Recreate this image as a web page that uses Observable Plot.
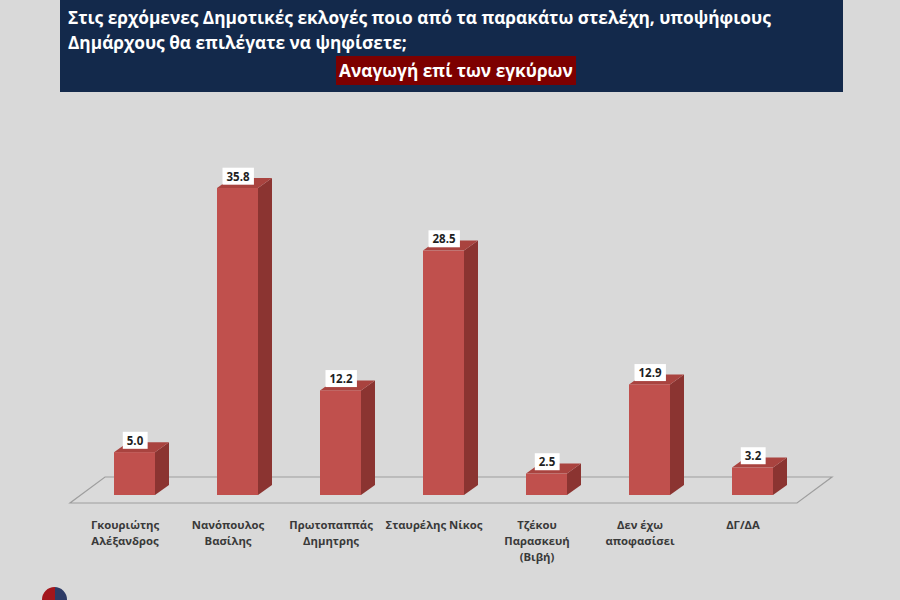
<!DOCTYPE html>
<html><head><meta charset="utf-8">
<script src="https://cdn.jsdelivr.net/npm/d3@7"></script>
<script src="https://cdn.jsdelivr.net/npm/@observablehq/plot@0.6"></script>
<style>
html,body{margin:0;padding:0;}
body{width:900px;height:600px;background:#d9d9d9;position:relative;overflow:hidden;font-family:"Open Sans",sans-serif;}
#header{position:absolute;left:60px;top:0;width:783px;height:92px;background:#13294b;color:#fff;font-weight:700;}
#header .t{position:absolute;left:8px;top:5px;font-size:17.3px;line-height:25px;white-space:nowrap;}
#header .s{position:absolute;left:276px;top:56px;font-size:17.3px;line-height:29px;background:#7d0000;padding:0 3px;white-space:nowrap;}
#chart{position:absolute;left:0;top:92px;}
#logo{position:absolute;left:42px;top:587px;width:25px;height:25px;border-radius:50%;background:linear-gradient(to right,#a3161c 52%,#2d3b66 52%);}
</style></head>
<body>
<div id="header">
  <div class="t">Στις ερχόμενες Δημοτικές εκλογές ποιο από τα παρακάτω στελέχη, υποψήφιους<br>Δημάρχους θα επιλέγατε να ψηφίσετε;</div>
  <div class="s">Αναγωγή επί των εγκύρων</div>
</div>
<div id="chart"></div>
<div id="logo"></div>
<script>
const categories = ["Γκουριώτης\nΑλέξανδρος", "Νανόπουλος\nΒασίλης", "Πρωτοπαππάς\nΔημητρης", "Σταυρέλης Νίκος", "Τζέκου\nΠαρασκευή\n(Βιβή)", "Δεν έχω\nαποφασίσει", "ΔΓ/ΔΑ"];
const values = [5.0, 35.8, 12.2, 28.5, 2.5, 12.9, 3.2];
const data = categories.map((c, i) => ({name: c, value: values[i]}));

const FRONT = "#c0504d", SIDE = "#8b3431", TOP = "#a9433f";
const DX = 14, DY = -10;
const pts = a => a.map(p => p.join(",")).join(" ");

function floorMark(index, scales, vals, dims) {
  const y0 = scales.y(0);
  const L = dims.marginLeft, R = dims.width - dims.marginRight;
  const g = d3.create("svg:g");
  g.append("polygon")
    .attr("points", pts([[L + 21, y0 + 8], [R - 42, y0 + 8], [R - 7, y0 - 18], [L + 56, y0 - 18]]))
    .attr("fill", "#dadada").attr("stroke", "#9e9e9e").attr("stroke-width", 1.2);
  return g.node();
}

function depthMark(index, scales) {
  const g = d3.create("svg:g");
  const bw = scales.x.bandwidth();
  for (const d of data) {
    const x0 = scales.x(d.name), x1 = x0 + bw, yt = scales.y(d.value), yb = scales.y(0);
    g.append("polygon").attr("points", pts([[x1, yb], [x1, yt], [x1 + DX, yt + DY], [x1 + DX, yb + DY]])).attr("fill", SIDE);
    g.append("polygon").attr("points", pts([[x0, yt], [x1, yt], [x1 + DX, yt + DY], [x0 + DX, yt + DY]])).attr("fill", TOP);
  }
  return g.node();
}

const chart = Plot.plot({
  width: 900,
  height: 508,
  marginLeft: 49,
  marginRight: 61,
  marginTop: 60,
  marginBottom: 105,
  x: {domain: categories, padding: 0.6, axis: null},
  y: {domain: [0, 40], axis: null},
  style: {background: "transparent", fontFamily: "'Open Sans', sans-serif", overflow: "visible"},
  marks: [
    floorMark,
    depthMark,
    Plot.barY(data, {x: "name", y: "value", fill: FRONT}),
    Plot.text(data, {x: "name", y: "value", text: d => d.value.toFixed(1), dy: -11.5, fontSize: 11.5, fontWeight: "bold", fill: "#1f1f1f"}),
    Plot.text(data, {x: "name", y: 0, text: "name", dx: -10, dy: 22, lineAnchor: "top", lineHeight: 1.41, fontSize: 11.3, fontWeight: "bold", fill: "#3a3a3a"})
  ]
});
document.getElementById("chart").appendChild(chart);

// white boxes behind the value labels (first text mark group)
const valueGroup = chart.querySelectorAll('g[aria-label="text"]')[0];
if (valueGroup) {
  valueGroup.querySelectorAll("text").forEach(t => {
    const b = t.getBBox();
    const r = document.createElementNS("http://www.w3.org/2000/svg", "rect");
    r.setAttribute("x", b.x - 4);
    r.setAttribute("y", b.y - 1);
    r.setAttribute("width", b.width + 8);
    r.setAttribute("height", b.height + 2);
    r.setAttribute("fill", "#ffffff");
    r.setAttribute("stroke", "none");
    const tr = t.getAttribute("transform");
    if (tr) r.setAttribute("transform", tr);
    t.parentNode.insertBefore(r, t);
  });
}
</script>
</body></html>
